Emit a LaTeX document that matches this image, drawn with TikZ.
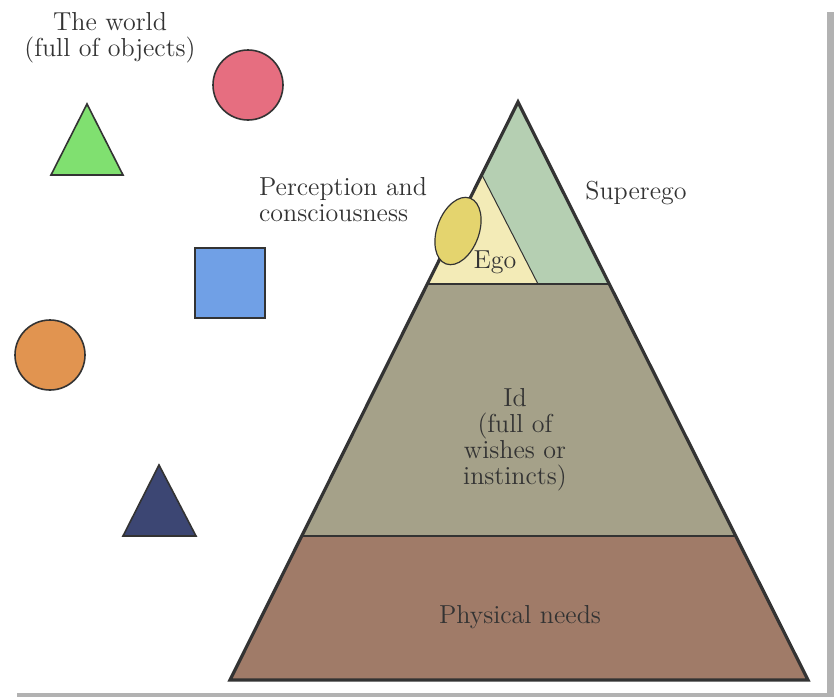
\documentclass[tikz,border=0pt]{standalone}
\usepackage{xcolor}
\definecolor{superegocol}{HTML}{B5CFB2}
\definecolor{egocol}{HTML}{F3EBB7}
\definecolor{percepcol}{HTML}{E4D46E}
\definecolor{idcol}{HTML}{A5A189}
\definecolor{needscol}{HTML}{A07B68}
\definecolor{objgreen}{HTML}{80E070}
\definecolor{objred}{HTML}{E66E80}
\definecolor{objblue}{HTML}{70A0E6}
\definecolor{objorange}{HTML}{E19450}
\definecolor{objnavy}{HTML}{3C4673}
\definecolor{ink}{HTML}{333333}

\begin{document}
\begin{tikzpicture}[x=0.5pt,y=-0.5pt,
  txt/.style={text=ink,font=\fontsize{13}{13}\selectfont,align=center},
  obj/.style={draw=ink,line width=0.8pt}]
\useasboundingbox (0,0) rectangle (834,697);
\fill[gray!60] (17,12) rectangle (834,697); %shadow
\fill[white] (0,0) rectangle (827,693);

% the world
\draw[obj,fill=objgreen] (87,104) -- (123,175) -- (51,175) -- cycle;
\draw[obj,fill=objred] (248,85) circle (35);
\draw[obj,fill=objblue] (195,248) rectangle (265,318);
\draw[obj,fill=objorange] (50,355) circle (35);
\draw[obj,fill=objnavy] (159,465) -- (196,536) -- (123,536) -- cycle;

% pyramid layers
\fill[needscol] (301,536) -- (735,536) -- (808,680) -- (230,680) -- cycle;
\fill[idcol] (427,284) -- (609,284) -- (735,536) -- (301,536) -- cycle;
\fill[superegocol] (518,102) -- (482,175) -- (538,284) -- (609,284) -- cycle;
\fill[egocol] (482,175) -- (538,284) -- (427,284) -- cycle;

\draw[ink,line width=1pt] (301,536) -- (735,536); %id / needs
\draw[ink,line width=0.8pt] (427,284) -- (609,284); %ego / id
\draw[ink,line width=0.5pt] (482,175) -- (538,284); %ego / superego
\draw[ink,line width=1.6pt] (518,102) -- (808,680) -- (230,680) -- cycle; %outline

\draw[draw=ink,line width=0.6pt,fill=percepcol] (458,231) ellipse [x radius=35,y radius=21,rotate=70];

% texts
\node[txt] (world) at (110,38) {The world\\(full of objects)};
\node[txt,align=left,anchor=west] (percep) at (252,200) {Perception and\\consciousness};
\node[txt] (superego) at (636,193) {Superego};
\node[txt] (ego) at (495,262) {Ego};
\node[txt] (id) at (515,440) {Id\\(full of\\wishes or\\instincts)};
\node[txt] (needs) at (520,617) {Physical needs};
\end{tikzpicture}
\end{document}
